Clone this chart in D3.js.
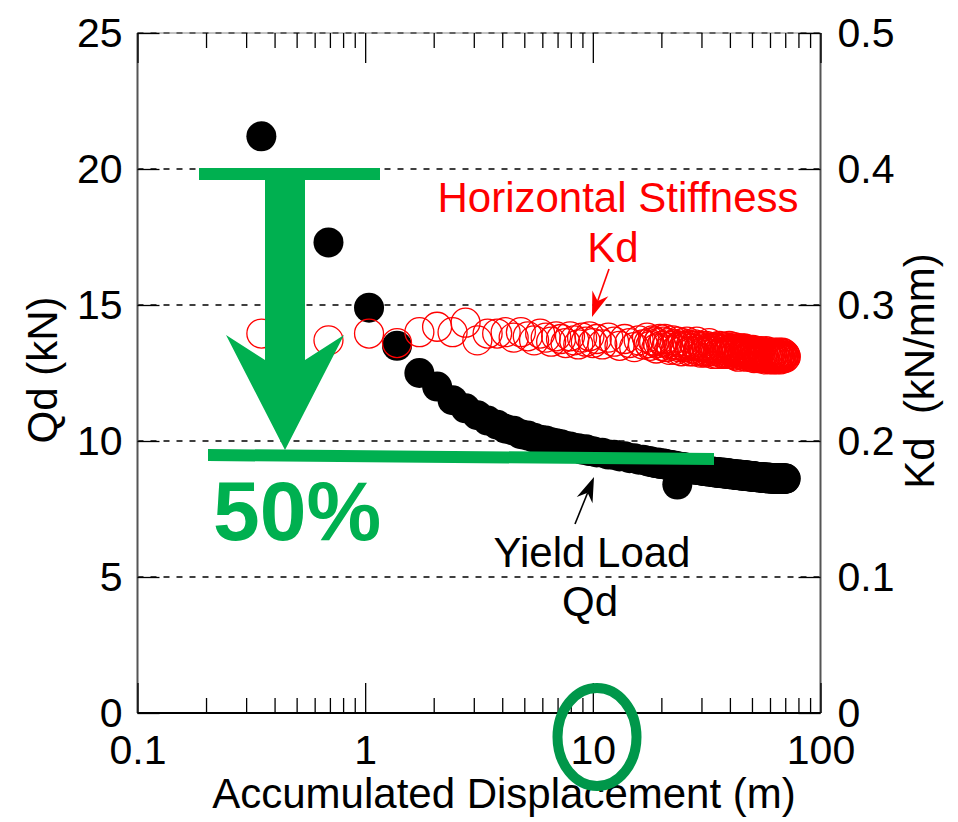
<!DOCTYPE html>
<html>
<head>
<meta charset="utf-8">
<script src="https://cdn.jsdelivr.net/npm/d3@7"></script>
<style>
  html, body { margin: 0; padding: 0; background: #fff; }
  svg { display: block; font-family: "Liberation Sans", Arial, Helvetica, sans-serif; }
</style>
</head>
<body>
<svg id="chart" width="958" height="822"></svg>
<script>
// Accumulated displacement (m) for each measured cycle
const displacement = [
  0.35, 0.69, 1.04, 1.38, 1.73, 2.07, 2.42, 2.76, 3.11, 3.45,
  3.80, 4.14, 4.49, 4.83, 5.18, 5.52, 5.87, 6.21, 6.56, 6.90,
  7.25, 7.59, 7.94, 8.28, 8.63, 8.97, 9.32, 9.66, 10.0, 10.4,
  11.0, 11.7, 12.4, 13.1, 13.8, 14.5, 15.2, 15.9, 16.6,
  17.3, 17.6, 17.9, 18.3, 18.6, 19.0, 19.3, 19.7, 20.0, 20.4,
  20.7, 21.0, 21.4, 21.7, 22.1, 22.4, 22.8, 23.1, 23.5, 23.8,
  24.2, 24.5, 24.8, 25.2, 25.5, 25.9, 26.2, 26.6, 26.9, 27.3,
  27.6, 28.0, 28.3, 28.6, 29.0, 29.3, 29.7, 30.0, 30.4, 30.7,
  31.1, 31.4, 31.7, 32.1, 32.4, 32.8, 33.1, 33.5, 33.8, 34.2,
  34.5, 34.8, 35.2, 35.5, 35.9, 36.2, 36.6, 36.9, 37.3, 37.6,
  38.0, 38.3, 38.6, 39.0, 39.3, 39.7, 40.0, 40.4, 40.7, 41.1,
  41.4, 41.7, 42.1, 42.4, 42.8, 43.1, 43.5, 43.8, 44.2, 44.5,
  44.9, 45.2, 45.5, 45.9, 46.2, 46.6, 46.9, 47.3, 47.6, 47.9,
  48.3, 48.6, 49.0, 49.3, 49.7, 50.0, 50.4, 50.7, 51.1, 51.4,
  51.8, 52.1, 52.4, 52.8, 53.1, 53.5, 53.8, 54.2, 54.5, 54.8,
  55.2, 55.5, 55.9, 56.2, 56.6, 56.9, 57.3, 57.6, 58.0, 58.3,
  58.7, 59.0, 59.3, 59.7, 60.0, 60.4, 60.7, 61.1, 61.4, 61.7,
  62.1, 62.4, 62.8, 63.1, 63.5, 63.8, 64.2, 64.5, 64.9, 65.2,
  65.6, 65.9, 66.2, 66.6, 66.9, 67.3, 67.6, 67.9, 68.3, 68.6,
  69.0, 69.3, 69.7, 70.0, 70.4
];

// Yield load Qd (kN)
const yieldLoad = [
  21.2, 17.3, 14.9, 13.5, 12.5, 12.0, 11.5, 11.2, 10.95, 10.75,
  10.6, 10.45, 10.38, 10.25, 10.2, 10.12, 10.05, 10.02, 9.95, 9.92,
  9.88, 9.82, 9.8, 9.74, 9.73, 9.68, 9.7, 9.63, 9.62, 9.58,
  9.57, 9.5, 9.49, 9.43, 9.44, 9.37, 9.37, 9.31, 9.31,
  9.27, 9.24, 9.26, 9.21, 9.2, 9.19, 9.21, 9.16, 9.15, 9.17,
  9.16, 9.12, 9.11, 9.13, 9.12, 9.08, 9.07, 9.09, 8.40, 9.05,
  9.05, 9.02, 9.04, 9.02, 9.03, 8.99, 8.98, 9.0, 9.0, 8.96,
  8.95, 8.97, 8.97, 8.94, 8.93, 8.95, 8.94, 8.91, 8.9, 8.92,
  8.91, 8.89, 8.88, 8.9, 8.89, 8.87, 8.86, 8.88, 8.87, 8.85,
  8.84, 8.86, 8.86, 8.83, 8.82, 8.84, 8.84, 8.81, 8.81, 8.83,
  8.83, 8.8, 8.79, 8.81, 8.81, 8.78, 8.78, 8.8, 8.8, 8.77,
  8.76, 8.78, 8.78, 8.75, 8.75, 8.77, 8.77, 8.74, 8.74, 8.76,
  8.76, 8.73, 8.72, 8.75, 8.75, 8.72, 8.71, 8.73, 8.73, 8.7,
  8.7, 8.72, 8.72, 8.69, 8.69, 8.71, 8.71, 8.68, 8.68, 8.7,
  8.69, 8.67, 8.67, 8.69, 8.68, 8.66, 8.66, 8.68, 8.67, 8.65,
  8.65, 8.67, 8.67, 8.64, 8.64, 8.66, 8.66, 8.63, 8.64, 8.66,
  8.65, 8.62, 8.63, 8.65, 8.65, 8.62, 8.62, 8.64, 8.64, 8.61,
  8.62, 8.64, 8.63, 8.61, 8.61, 8.63, 8.63, 8.6, 8.61, 8.63,
  8.63, 8.6, 8.61, 8.63, 8.64, 8.61, 8.62, 8.62, 8.63, 8.6,
  8.61, 8.62, 8.63, 8.61, 8.62
];

// Horizontal stiffness Kd (kN/mm)
const stiffness = [
  0.279, 0.274, 0.279, 0.272, 0.280, 0.284, 0.280, 0.287, 0.274, 0.279,
  0.279, 0.280, 0.276, 0.280, 0.277, 0.274, 0.279, 0.276, 0.273, 0.277,
  0.275, 0.272, 0.277, 0.274, 0.271, 0.276, 0.273, 0.277, 0.272, 0.275,
  0.271, 0.276, 0.273, 0.270, 0.275, 0.272, 0.269, 0.274, 0.271,
  0.276, 0.272, 0.270, 0.274, 0.273, 0.268, 0.272, 0.275, 0.270, 0.273,
  0.275, 0.269, 0.272, 0.267, 0.270, 0.274, 0.271, 0.267, 0.273, 0.269,
  0.270, 0.266, 0.272, 0.270, 0.269, 0.273, 0.271, 0.266, 0.270, 0.268,
  0.266, 0.271, 0.270, 0.273, 0.267, 0.269, 0.265, 0.270, 0.269, 0.266,
  0.265, 0.270, 0.268, 0.266, 0.272, 0.268, 0.266, 0.269, 0.264, 0.268,
  0.269, 0.266, 0.264, 0.268, 0.270, 0.267, 0.265, 0.269, 0.267, 0.264,
  0.265, 0.268, 0.269, 0.264, 0.266, 0.270, 0.267, 0.264, 0.268, 0.266,
  0.265, 0.269, 0.263, 0.267, 0.265, 0.268, 0.262, 0.266, 0.267, 0.264,
  0.268, 0.263, 0.265, 0.266, 0.268, 0.264, 0.267, 0.262, 0.265, 0.266,
  0.263, 0.267, 0.264, 0.262, 0.266, 0.264, 0.267, 0.263, 0.261, 0.265,
  0.266, 0.262, 0.264, 0.266, 0.263, 0.261, 0.265, 0.264, 0.262, 0.266,
  0.264, 0.261, 0.263, 0.265, 0.262, 0.260, 0.264, 0.266, 0.263, 0.261,
  0.265, 0.262, 0.264, 0.260, 0.263, 0.265, 0.261, 0.263, 0.264, 0.262,
  0.260, 0.264, 0.262, 0.265, 0.261, 0.263, 0.260, 0.264, 0.262, 0.263,
  0.265, 0.261, 0.263, 0.262, 0.260, 0.264, 0.262, 0.265, 0.261, 0.263,
  0.262, 0.264, 0.261, 0.263, 0.262
];

// Axis ticks
const xMajorTicks = [0.1, 1, 10, 100];
const xTickLabels = ["0.1", "1", "10", "100"];
const qdTicks = [0, 5, 10, 15, 20, 25];
const kdTicks = [0, 0.1, 0.2, 0.3, 0.4, 0.5];
const kdTickLabels = ["0", "0.1", "0.2", "0.3", "0.4", "0.5"];

const svg = d3.select("#chart");
const plot = { left: 137.5, right: 820.5, top: 33, bottom: 713 };

const x = d3.scaleLog().domain([0.1, 100]).range([plot.left, plot.right]);
const yQ = d3.scaleLinear().domain([0, 25]).range([plot.bottom, plot.top]);
const yK = d3.scaleLinear().domain([0, 0.5]).range([plot.bottom, plot.top]);

const points = displacement.map((d, i) => ({ x: d, qd: yieldLoad[i], kd: stiffness[i] }));
const xMinorTicks = x.ticks().filter(t => !xMajorTicks.some(m => Math.abs(m - t) < 1e-9));

const TICK_FONT = 41;
const LABEL_FONT = 42;

// dashed horizontal grid
svg.append("g")
  .selectAll("line")
  .data(qdTicks.filter(t => t > 0))
  .join("line")
  .attr("x1", plot.left).attr("x2", plot.right)
  .attr("y1", d => yQ(d)).attr("y2", d => yQ(d))
  .attr("stroke", "#000").attr("stroke-width", 1.3)
  .attr("stroke-dasharray", "6,7");

// frame
svg.append("line").attr("x1", plot.left).attr("x2", plot.left)
  .attr("y1", plot.top).attr("y2", plot.bottom)
  .attr("stroke", "#555").attr("stroke-width", 2);
svg.append("line").attr("x1", plot.right).attr("x2", plot.right)
  .attr("y1", plot.top).attr("y2", plot.bottom)
  .attr("stroke", "#555").attr("stroke-width", 2);
svg.append("line").attr("x1", plot.left).attr("x2", plot.right)
  .attr("y1", plot.top).attr("y2", plot.top)
  .attr("stroke", "#888").attr("stroke-width", 1);
svg.append("line").attr("x1", plot.left).attr("x2", plot.right)
  .attr("y1", plot.bottom).attr("y2", plot.bottom)
  .attr("stroke", "#000").attr("stroke-width", 2);

function styleAxis(g, size) {
  g.select(".domain").remove();
  g.selectAll(".tick line").attr("stroke", "#000").attr("stroke-width", 1.3);
  g.selectAll("text").attr("font-size", size).attr("fill", "#000")
    .attr("font-family", "Liberation Sans, Arial, sans-serif");
}

// bottom axis: major ticks with labels, minor ticks, all pointing inward
svg.append("g").attr("transform", `translate(0,${plot.bottom})`)
  .call(d3.axisBottom(x).tickValues(xMajorTicks)
    .tickFormat((d, i) => xTickLabels[i]).tickSize(-30).tickPadding(22).tickSizeOuter(0))
  .call(g => styleAxis(g, TICK_FONT));
svg.append("g").attr("transform", `translate(0,${plot.bottom})`)
  .call(d3.axisBottom(x).tickValues(xMinorTicks).tickFormat("").tickSize(-15).tickSizeOuter(0))
  .call(g => styleAxis(g, TICK_FONT));

// top axis: ticks only
svg.append("g").attr("transform", `translate(0,${plot.top})`)
  .call(d3.axisTop(x).tickValues(xMajorTicks).tickFormat("").tickSize(-30).tickSizeOuter(0))
  .call(g => styleAxis(g, TICK_FONT));
svg.append("g").attr("transform", `translate(0,${plot.top})`)
  .call(d3.axisTop(x).tickValues(xMinorTicks).tickFormat("").tickSize(-15).tickSizeOuter(0))
  .call(g => styleAxis(g, TICK_FONT));

// left axis (Qd)
svg.append("g").attr("transform", `translate(${plot.left},0)`)
  .call(d3.axisLeft(yQ).tickValues(qdTicks).tickSize(-22).tickPadding(15).tickSizeOuter(0))
  .call(g => styleAxis(g, TICK_FONT));

// right axis (Kd)
svg.append("g").attr("transform", `translate(${plot.right},0)`)
  .call(d3.axisRight(yK).tickValues(kdTicks)
    .tickFormat((d, i) => kdTickLabels[i]).tickSize(-22).tickPadding(17).tickSizeOuter(0))
  .call(g => styleAxis(g, TICK_FONT));

// axis titles
svg.append("text").attr("x", 504).attr("y", 808).attr("text-anchor", "middle")
  .attr("font-size", LABEL_FONT).text("Accumulated Displacement (m)");
svg.append("text").attr("transform", "translate(57,370) rotate(-90)")
  .attr("text-anchor", "middle").attr("font-size", LABEL_FONT).text("Qd (kN)");
svg.append("text").attr("transform", "translate(934,371) rotate(-90)")
  .attr("text-anchor", "middle").attr("font-size", LABEL_FONT)
  .style("white-space", "pre").text("Kd  (kN/mm)");

// yield load: filled black markers
svg.append("g")
  .selectAll("circle")
  .data(points)
  .join("circle")
  .attr("cx", d => x(d.x)).attr("cy", d => yQ(d.qd)).attr("r", 15)
  .attr("fill", "#000");

// horizontal stiffness: open red markers
svg.append("g")
  .selectAll("circle")
  .data(points)
  .join("circle")
  .attr("cx", d => x(d.x)).attr("cy", d => yK(d.kd)).attr("r", 14.5)
  .attr("fill", "none").attr("stroke", "#ff0000").attr("stroke-width", 1.3);

// series labels
svg.append("text").attr("x", 618).attr("y", 212).attr("text-anchor", "middle")
  .attr("font-size", LABEL_FONT).attr("fill", "#ff0000").text("Horizontal Stiffness");
svg.append("text").attr("x", 613).attr("y", 262).attr("text-anchor", "middle")
  .attr("font-size", LABEL_FONT).attr("fill", "#ff0000").text("Kd");
svg.append("text").attr("x", 592).attr("y", 567).attr("text-anchor", "middle")
  .attr("font-size", LABEL_FONT).attr("fill", "#000").text("Yield Load");
svg.append("text").attr("x", 590).attr("y", 616).attr("text-anchor", "middle")
  .attr("font-size", LABEL_FONT).attr("fill", "#000").text("Qd");

// pointer arrows with swept-back heads
function pointer(x1, y1, x2, y2, color) {
  const a = Math.atan2(y2 - y1, x2 - x1);
  const len = 25, half = 8.5, notch = 17;
  const ux = Math.cos(a), uy = Math.sin(a), px = -uy, py = ux;
  const bx = x2 - ux * len, by = y2 - uy * len;
  const nx = x2 - ux * notch, ny = y2 - uy * notch;
  svg.append("line").attr("x1", x1).attr("y1", y1).attr("x2", nx).attr("y2", ny)
    .attr("stroke", color).attr("stroke-width", 1.6);
  svg.append("path")
    .attr("d", `M${x2},${y2}L${bx + px * half},${by + py * half}L${nx},${ny}L${bx - px * half},${by - py * half}Z`)
    .attr("fill", color);
}
pointer(609, 269, 592, 317, "#ff0000");
pointer(575, 524, 594, 477, "#000");

// green reduction marker
const green = "#00b050";
svg.append("rect").attr("x", 199).attr("y", 168).attr("width", 181).attr("height", 12).attr("fill", green);
svg.append("path")
  .attr("d", "M265,179L265,360L226,335L285,450L344,335L305,360L305,179Z")
  .attr("fill", green);
svg.append("path")
  .attr("d", "M208,449L714,453L714,465L208,461Z")
  .attr("fill", green);
svg.append("text").attr("x", 213).attr("y", 540)
  .attr("font-size", 84).attr("font-weight", "bold").attr("fill", green).text("50%");

// ring around the 10 m label
svg.append("ellipse").attr("cx", 597).attr("cy", 737).attr("rx", 39.5).attr("ry", 49)
  .attr("fill", "none").attr("stroke", "#00974a").attr("stroke-width", 10);
</script>
</body>
</html>
